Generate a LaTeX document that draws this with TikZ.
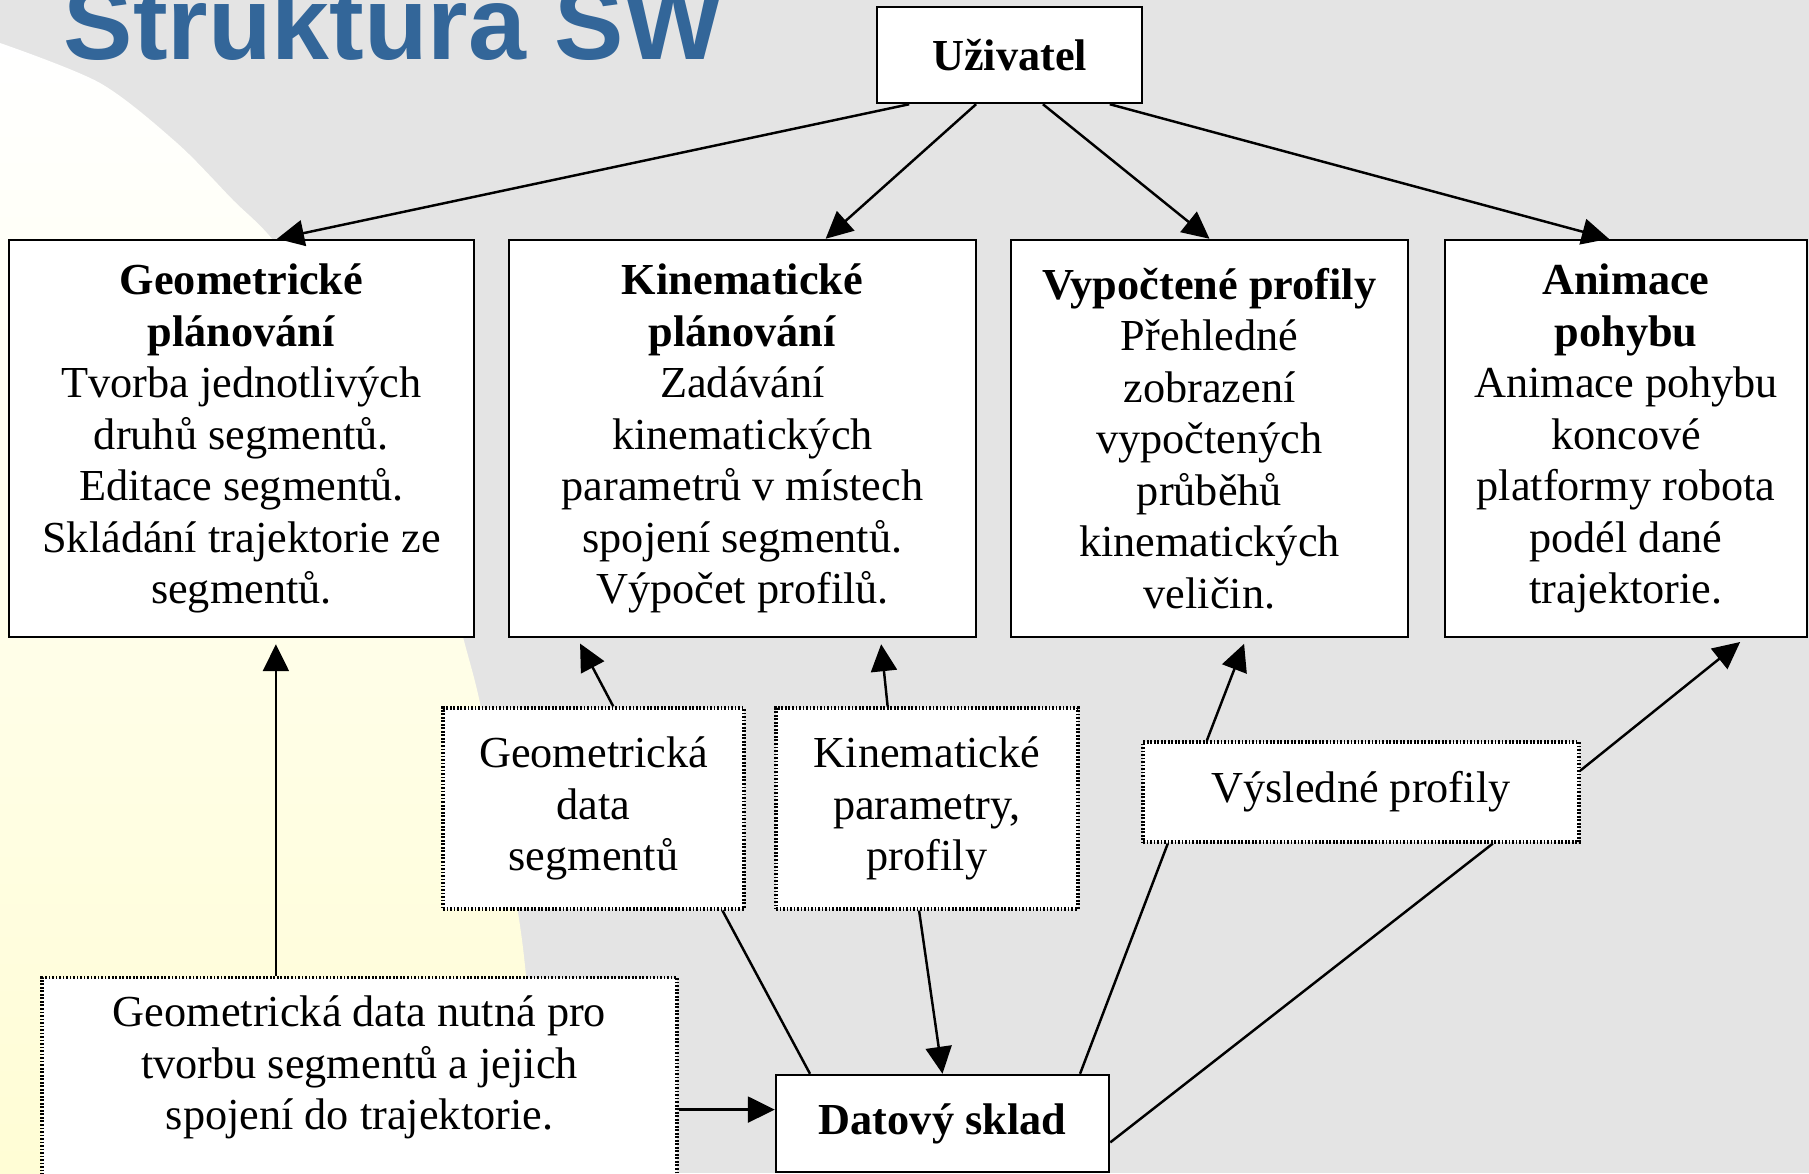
\documentclass[tikz,border=0pt]{standalone}
\usepackage{fontspec}
\setmainfont{Liberation Serif}
\newfontfamily\titlefont{Liberation Sans}
\usetikzlibrary{arrows.meta,calc}

\definecolor{titleblue}{RGB}{51,102,153}
\definecolor{slidegray}{RGB}{228,228,228}
\definecolor{paleyellow}{RGB}{255,255,226}
\definecolor{deepyellow}{RGB}{255,253,212}

\tikzset{
  box/.style={draw, line width=0.7pt, fill=white, align=center, inner sep=0pt,
    font=\fontsize{12.6}{14.65}\selectfont},
  dotbox/.style={box, line width=0.9pt, dash pattern=on 0.5pt off 0.5pt},
  arr/.style={-{Triangle[length=2.7mm,width=2.6mm]}, line width=0.7pt},
  link/.style={line width=0.7pt}
}

\begin{document}
\begin{tikzpicture}[x=0.1mm, y=-0.1mm]
\useasboundingbox (0,0) rectangle (1809,1173);
\clip (0,0) rectangle (1809,1173);

% slide background
\fill[slidegray] (0,0) rectangle (1809,1173);
\shade[top color=white, middle color=paleyellow, bottom color=deepyellow]
  plot[smooth] coordinates {(0,43) (100,83) (177,143) (233,200) (273,240) (340,330)
    (395,430) (435,530) (463,637) (480,703) (502,820) (522,940) (533,1060) (538,1190)}
  -- (0,1190) -- cycle;

\node[anchor=base west, inner sep=0pt, text=titleblue,
  font=\titlefont\bfseries\fontsize{29.6}{32}\selectfont] (title) at (63,59) {Struktura SW};

\node[box, minimum width=26.5mm, minimum height=9.6mm] (user) at (1009.5,55) {\textbf{Uživatel}};

\node[box, minimum width=46.5mm, minimum height=39.7mm] (geo) at (241.5,438.5)
  {\textbf{Geometrické}\\\textbf{plánování}\\Tvorba jednotlivých\\druhů segmentů.\\Editace segmentů.\\Skládání trajektorie ze\\segmentů.};
\node[box, minimum width=46.7mm, minimum height=39.7mm] (kin) at (742.5,438.5)
  {\textbf{Kinematické}\\\textbf{plánování}\\Zadávání\\kinematických\\parametrů v místech\\spojení segmentů.\\Výpočet profilů.};
\node[box, minimum width=39.7mm, minimum height=39.7mm] (prof) at (1209.5,438.5)
  {\textbf{Vypočtené profily}\\Přehledné\\zobrazení\\vypočtených\\průběhů\\kinematických\\veličin.};
\node[box, minimum width=36.2mm, minimum height=39.7mm] (anim) at (1626,438.5)
  {\textbf{Animace}\\\textbf{pohybu}\\Animace pohybu\\koncové\\platformy robota\\podél dané\\trajektorie.};

\node[dotbox, minimum width=30.1mm, minimum height=20.1mm] (segdata) at (593.5,808.5)
  {Geometrická\\data\\segmentů};
\node[dotbox, minimum width=30.2mm, minimum height=20.1mm] (kpar) at (927,808.5)
  {Kinematické\\parametry,\\profily};
\node[dotbox, minimum width=43.6mm, minimum height=10mm] (vprof) at (1361,792)
  {Výsledné profily};
\node[dotbox, anchor=north, minimum width=63.5mm, inner ysep=5pt,
  text height=9pt, text depth=42pt] (gdall) at (359.5,976)
  {\begin{tabular}[t]{@{}c@{}}Geometrická data nutná pro\\tvorbu segmentů a jejich\\spojení do trajektorie.\end{tabular}};

\node[box, minimum width=33.3mm, minimum height=9.7mm] (store) at (942.5,1123.5) {\textbf{Datový sklad}};

\draw[arr] ($(user.south west)!0.125!(user.south east)$) -- ($(geo.north west)!0.576!(geo.north east)$);
\draw[arr] ($(user.south west)!0.375!(user.south east)$) -- ($(kin.north west)!0.677!(kin.north east)$);
\draw[arr] ($(user.south west)!0.625!(user.south east)$) -- (prof.north);
\draw[arr] ($(user.south west)!0.875!(user.south east)$) -- ($(anim.north west)!0.453!(anim.north east)$);

\coordinate (g0) at ($(gdall.north west)!0.369!(gdall.north east)$);
\draw[arr, shorten >=0.6mm] (g0) -- (g0 |- geo.south);
\draw[arr, shorten >=0.6mm] ($(segdata.north west)!0.565!(segdata.north east)$) -- ($(kin.south west)!0.148!(kin.south east)$);
\draw[arr, shorten >=0.6mm] ($(kpar.north west)!0.371!(kpar.north east)$) -- ($(kin.south west)!0.794!(kin.south east)$);
\draw[arr, shorten >=0.6mm] ($(vprof.north west)!0.149!(vprof.north east)$) -- ($(prof.south west)!0.592!(prof.south east)$);
\draw[arr, shorten >=0.6mm] ($(vprof.north east)!0.29!(vprof.south east)$) -- ($(anim.south west)!0.826!(anim.south east)$);

\draw[link] ($(segdata.south west)!0.924!(segdata.south east)$) -- ($(store.north west)!0.105!(store.north east)$);
\draw[arr] ($(kpar.south west)!0.474!(kpar.south east)$) -- (store.north);
\draw[link] ($(store.north west)!0.91!(store.north east)$) -- ($(vprof.south west)!0.06!(vprof.south east)$);
\draw[link] ($(store.north east)!0.69!(store.south east)$) -- ($(vprof.south west)!0.80!(vprof.south east)$);

\coordinate (s0) at ($(store.north west)!0.36!(store.south west)$);
\draw[arr] (gdall.east |- s0) -- (s0);
\end{tikzpicture}
\end{document}
